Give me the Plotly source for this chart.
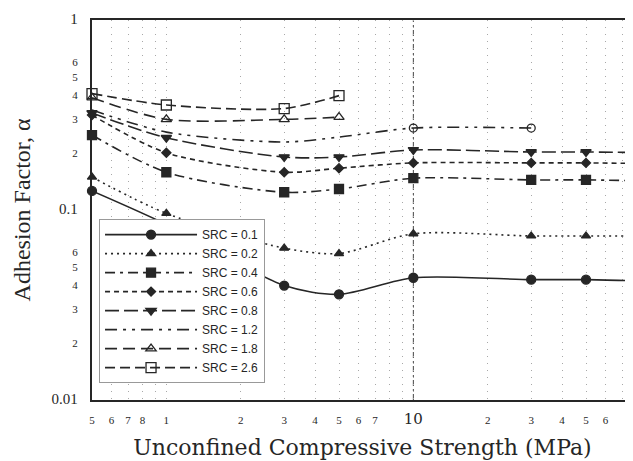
import math
import plotly.graph_objects as go

# ---------------- data ----------------
ucs = [0.5, 1, 3, 5, 10, 30, 50, 100]  # MPa

src_01 = [0.126, 0.084, 0.040, 0.036, 0.044, 0.043, 0.043, 0.042]
src_02 = [0.149, 0.096, 0.063, 0.059, 0.075, 0.073, 0.073, 0.073]
src_04 = [0.248, 0.158, 0.124, 0.129, 0.147, 0.144, 0.144, 0.142]
src_06 = [0.316, 0.200, 0.158, 0.166, 0.177, 0.177, 0.177, 0.175]
src_08 = [0.324, 0.240, 0.190, 0.190, 0.207, 0.202, 0.202, 0.200]

ucs_12 = [0.5, 1, 3, 5, 10, 30]
src_12 = [0.336, 0.257, 0.228, 0.242, 0.270, 0.270]
ucs_12_marked = [10, 30]

ucs_18 = [0.5, 1, 3, 5]
src_18 = [0.390, 0.300, 0.300, 0.308]

ucs_26 = [0.5, 1, 3, 5]
src_26 = [0.410, 0.357, 0.342, 0.400]

legend_names = ["SRC = 0.1", "SRC = 0.2", "SRC = 0.4", "SRC = 0.6",
                "SRC = 0.8", "SRC = 1.2", "SRC = 1.8", "SRC = 2.6"]

x_tickvals = [0.5, 0.6, 0.7, 0.8, 1, 2, 3, 4, 5, 6, 7, 10, 20, 30, 40, 50, 60]
x_ticktext = ["5", "6", "7", "8", "1", "2", "3", "4", "5", "6", "7",
              '<span style="font-size:15px;font-family:DejaVu Serif">10</span>',
              "2", "3", "4", "5", "6"]
x_minor_vals = [0.9, 8, 9, 70, 80, 90]

y_tickvals = [0.01, 0.02, 0.03, 0.04, 0.05, 0.06, 0.1, 0.2, 0.3, 0.4, 0.5, 0.6, 1]
y_ticktext = ['<span style="font-size:15px">0.01</span>', "2", "3", "4", "5", "6",
              '<span style="font-size:15px">0.1</span>', "2", "3", "4", "5", "6",
              '<span style="font-size:15px">1</span>']

ref_line_x = 10

# ---------------- styling ----------------
INK = "#262626"
LW = 1.6

fig = go.Figure()

def add_series(x, y, name, dash, symbol, size, show_markers=True):
    fig.add_trace(go.Scatter(
        x=x, y=y, name=name,
        mode="lines+markers" if show_markers else "lines",
        line=dict(color=INK, width=LW, dash=dash, shape="spline", smoothing=0.8),
        marker=dict(symbol=symbol, size=size, color=INK,
                    line=dict(color=INK, width=1.3)),
        cliponaxis=False,
    ))

add_series(ucs, src_01, legend_names[0], "solid", "circle", 9)
add_series(ucs, src_02, legend_names[1], "2px,4px", "triangle-up", 8)
add_series(ucs, src_04, legend_names[2], "10px,5px,3px,5px", "square", 9)
add_series(ucs, src_06, legend_names[3], "5px,4px", "diamond", 7)
add_series(ucs, src_08, legend_names[4], "14px,5px", "triangle-down", 9)
add_series(ucs_12, src_12, legend_names[5], "12px,6px,3px,6px,3px,6px", "circle-open", 8,
           show_markers=False)
fig.add_trace(go.Scatter(
    x=ucs_12_marked,
    y=[src_12[ucs_12.index(v)] for v in ucs_12_marked],
    mode="markers", showlegend=False,
    marker=dict(symbol="circle-open", size=8, color=INK, line=dict(color=INK, width=1.3)),
    cliponaxis=False,
))
add_series(ucs_18, src_18, legend_names[6], "12px,6px", "triangle-up-open", 9)
add_series(ucs_26, src_26, legend_names[7], "10px,5px", "square-open", 10)

fig.add_shape(type="line", xref="x", yref="paper", x0=ref_line_x, x1=ref_line_x,
              y0=0, y1=1, line=dict(color="#444", width=1, dash="6px,3px,2px,3px"),
              layer="below")

SERIF = "Liberation Serif, Times New Roman, serif"
WIDE_SERIF = "DejaVu Serif, serif"
GRID = "#a8a8a8"

# The page body adds an 8px offset, so the figure is 8px smaller than the window
fig.update_layout(
    width=625, height=453,
    margin=dict(l=84, r=0, t=12, b=61),
    paper_bgcolor="white", plot_bgcolor="white",
    font=dict(family=SERIF, color=INK, size=12),
    showlegend=True,
    legend=dict(
        x=0.013, y=0.476, xanchor="left", yanchor="top",
        bgcolor="white", bordercolor="#999", borderwidth=1,
        font=dict(family="Liberation Sans, Arial, sans-serif", size=12, color=INK),
        itemwidth=92, tracegroupgap=0,
    ),
    xaxis=dict(
        type="log", automargin=False,
        range=[math.log10(0.5), math.log10(0.5) + 541 / 247],
        tickmode="array", tickvals=x_tickvals, ticktext=x_ticktext,
        tickfont=dict(family=SERIF, size=11, color=INK),
        ticks="outside", ticklen=9, tickcolor="rgba(0,0,0,0)",
        showgrid=True, gridcolor=GRID, griddash="1px,6px", gridwidth=1,
        minor=dict(tickvals=x_minor_vals, showgrid=True, gridcolor=GRID,
                   griddash="1px,6px", gridwidth=1, ticks=""),
        showline=True, linecolor=INK, linewidth=2, mirror=True,
        zeroline=False,
        title=dict(text="Unconfined Compressive Strength (MPa)",
                   font=dict(family=WIDE_SERIF, size=22, color=INK), standoff=12),
    ),
    yaxis=dict(
        type="log", automargin=False,
        range=[-2, 0],
        tickmode="array", tickvals=y_tickvals, ticktext=y_ticktext,
        tickfont=dict(family=SERIF, size=11, color=INK),
        ticks="outside", ticklen=10, tickcolor="rgba(0,0,0,0)",
        showgrid=False,
        showline=True, linecolor=INK, linewidth=2, mirror=False,
        zeroline=False,
        title=dict(text="Adhesion Factor, α",
                   font=dict(family=SERIF, size=24, color=INK), standoff=14),
    ),
)

fig.write_html("out.html")
